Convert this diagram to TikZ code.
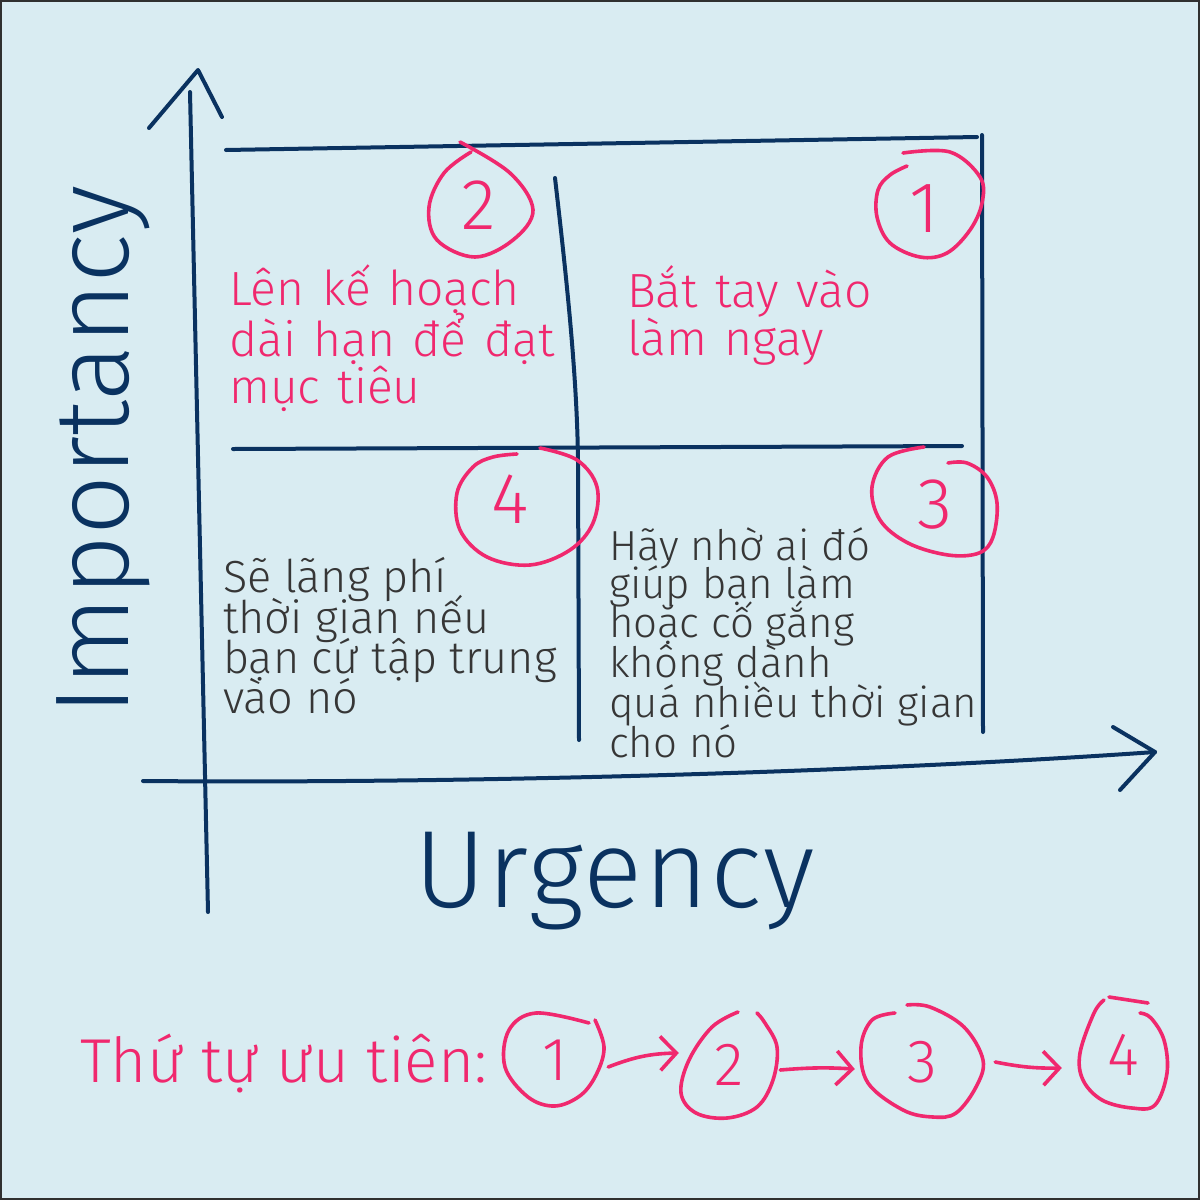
\documentclass[tikz,border=0pt]{standalone}
\usepackage{fontspec}
\setmainfont{Fira Sans Light}
\newfontfamily\pinkfont{Fira Sans Light}[WordSpace=1.3]
\newfontfamily\urgfont{Fira Sans Light}[LetterSpace=1.5]
\usetikzlibrary{arrows.meta,shapes.geometric}
\definecolor{bgc}{HTML}{D9ECF2}
\definecolor{navy}{HTML}{0A3260}
\definecolor{pinkc}{HTML}{F0286E}
\definecolor{inkc}{HTML}{363636}
\definecolor{framec}{HTML}{303030}
\begin{document}
\begin{tikzpicture}[x=1pt,y=-1pt,
  navyline/.style={draw=navy,line width=4pt,line cap=round,line join=round},
  pinkline/.style={draw=pinkc,line width=3.6pt,line cap=round,line join=round},
  pinktxt/.style={text=pinkc,inner sep=0pt,anchor=base west,font=\pinkfont\fontsize{48}{48}\selectfont},
  inktxt/.style={text=inkc,inner sep=0pt,anchor=base west,font=\fontsize{45}{40}\selectfont},
  inktxtb/.style={text=inkc,inner sep=0pt,anchor=base west,font=\fontsize{42}{40}\selectfont},
  qnum/.style={text=pinkc,inner sep=0pt,font=\fontsize{72}{72}\selectfont},
  bnum/.style={text=pinkc,inner sep=0pt,ellipse,font=\fontsize{61}{61}\selectfont},
  axlabel/.style={text=navy,inner sep=0pt,anchor=base west},
  parr/.style={pinkline,-{Straight Barb[length=16pt,width=34pt]}},
]
\useasboundingbox (0,0) rectangle (1200,1200);
\fill[bgc] (0,0) rectangle (1200,1200);
\draw[framec,line width=2pt] (1,1) rectangle (1199,1199);

% axes
\coordinate (vtop) at (190,92);
\coordinate (vbot) at (208,912);
\coordinate (hl) at (143,781);
\coordinate (hr) at (1155,752);
\draw[navyline] (vbot) -- (vtop);
\draw[navyline] (149,128) -- (198,70) -- (222,117);
\draw[navyline] (hl) .. controls (500,784) and (900,770) .. (hr);
\draw[navyline] (1113,727) -- (hr) -- (1120,790);

% grid
\draw[navyline] (226,150) -- (977,137);
\draw[navyline] (982,135) -- (983,732);
\draw[navyline] (233,449) -- (962,446);
\draw[navyline] (555,178) .. controls (568,290) and (577,380) .. (578,460) -- (579,740);

% quadrant texts
\node[pinktxt] (t2a) at (229,305) {Lên kế hoạch};
\node[pinktxt] (t2b) at (229,356) {dài hạn để đạt};
\node[pinktxt] (t2c) at (229,403) {mục tiêu};
\node[pinktxt] (t1a) at (627,307) {Bắt tay vào};
\node[pinktxt] (t1b) at (627,355) {làm ngay};
\node[inktxt] (t4a) at (223,592) {Sẽ lãng phí};
\node[inktxt] (t4b) at (223,633) {thời gian nếu};
\node[inktxt] (t4c) at (223,673) {bạn cứ tập trung};
\node[inktxt] (t4d) at (223,713) {vào nó};
\node[inktxtb] (t3a) at (609,560) {Hãy nhờ ai đó};
\node[inktxtb] (t3b) at (609,598) {giúp bạn làm};
\node[inktxtb] (t3c) at (609,637) {hoặc cố gắng};
\node[inktxtb] (t3d) at (609,677) {không dành};
\node[inktxtb] (t3e) at (609,717) {quá nhiều thời gian};
\node[inktxtb] (t3f) at (609,757) {cho nó};

% quadrant numbers
\node[qnum] (q2) at (479,205) {2};
\node[qnum] (q1) at (924,209) {1};
\node[qnum] (q4) at (510,499) {4};
\node[qnum] (q3) at (935,505) {3};
\draw[pinkline] plot[smooth,tension=0.6] coordinates {(460,142) (510,173) (533,210) (513,240) (475,257) (437,240) (429,207) (444,173) (471,152)};
\draw[pinkline] plot[smooth,tension=0.6] coordinates {(903,153) (950,152) (980,177) (982,203) (970,230) (947,253) (920,257) (890,243) (877,217) (878,190) (890,175) (907,166)};
\draw[pinkline] plot[smooth,tension=0.6] coordinates {(540,448) (577,460) (597,487) (593,523) (570,550) (530,565) (487,557) (460,530) (457,493) (473,467) (493,457) (517,454)};
\draw[pinkline] plot[smooth,tension=0.6] coordinates {(924,447) (888,457) (872,487) (880,520) (908,543) (948,555) (979,553) (993,537) (997,503) (987,477) (967,463) (948,463)};

% axis labels
\node[axlabel,font=\urgfont\fontsize{110}{110}\selectfont] (urg) at (414,907) {Urgency};
\node[axlabel,rotate=90,font=\fontsize{105}{105}\selectfont] (imp) at (128,716) {Importancy};

% priority row
\node[text=pinkc,inner sep=0pt,anchor=base west,font=\fontsize{62}{62}\selectfont] (prio) at (80,1082) {Thứ tự ưu tiên:};
\node[bnum,minimum width=100pt,minimum height=94pt] (b1) at (555,1060) {1};
\node[bnum,minimum width=96pt,minimum height=106pt] (b2) at (729,1065) {2};
\node[bnum,minimum width=122pt,minimum height=112pt] (b3) at (922,1062) {3};
\node[bnum,minimum width=88pt,minimum height=112pt] (b4) at (1123,1055) {4};
\draw[pinkline] plot[smooth,tension=0.6] coordinates {(589,1023) (536,1013) (509,1030) (505,1067) (528,1097) (555,1106) (581,1095) (597,1073) (604,1047) (595,1020)};
\draw[pinkline] plot[smooth,tension=0.6] coordinates {(738,1012) (712,1027) (689,1060) (681,1093) (696,1113) (727,1118) (757,1107) (773,1080) (777,1047) (765,1023) (757,1013)};
\draw[pinkline] plot[smooth,tension=0.6] coordinates {(907,1005) (930,1007) (964,1027) (983,1060) (976,1087) (956,1113) (933,1117) (903,1110) (868,1083) (861,1047) (872,1020) (895,1013)};
\draw[pinkline] plot[smooth,tension=0.6] coordinates {(1148,1003) (1109,997)};
\draw[pinkline] plot[smooth,tension=0.6] coordinates {(1104,1000) (1094,1013) (1080,1053) (1083,1080) (1102,1100) (1132,1108) (1155,1105) (1167,1073) (1164,1040) (1151,1018) (1140,1013)};
\draw[parr] ([xshift=3pt,yshift=-7pt]b1.east) to[bend left=10] ([xshift=-2pt,yshift=12pt]b2.west);
\draw[parr] ([xshift=3pt,yshift=-5pt]b2.east) to[bend left=4] ([xshift=-6pt,yshift=-7pt]b3.west);
\draw[parr] ([xshift=12pt,yshift=0pt]b3.east) to[bend right=6] ([xshift=-17pt,yshift=-13pt]b4.west);
\end{tikzpicture}
\end{document}
